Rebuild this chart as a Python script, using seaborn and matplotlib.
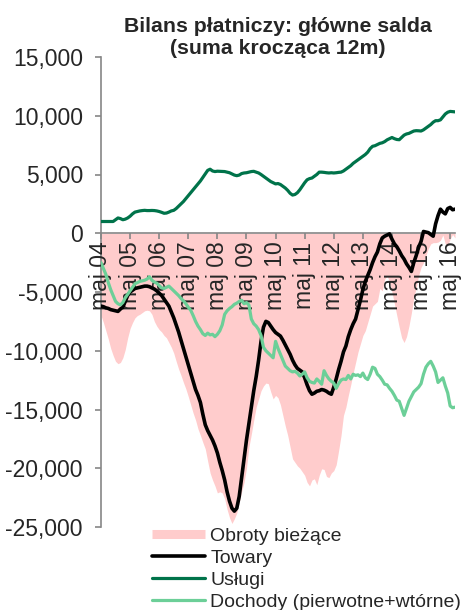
import numpy as np
import pandas as pd
import matplotlib
matplotlib.use("Agg")
import matplotlib.pyplot as plt
import seaborn as sns
from matplotlib.lines import Line2D
from matplotlib.ticker import FuncFormatter, FixedLocator

# ---------------- data (monthly 12m rolling sums, from May 2004) ----------------
title = "Bilans płatniczy: główne salda\n(suma krocząca 12m)"
tick_labels = ["maj 04", "maj 05", "maj 06", "maj 07", "maj 08", "maj 09", "maj 10",
               "maj 11", "maj 12", "maj 13", "maj 14", "maj 15", "maj 16"]
series_names = ["Obroty bieżące", "Towary", "Usługi", "Dochody (pierwotne+wtórne)"]

obroty = [
    -7000, -7600, -8300, -9000, -9800, -10400, -10900, -11100, -11000, -10600,
    -9900, -8900, -8100, -7600, -7200, -7000, -6900, -6750, -6600, -6550,
    -6600, -6900, -7500, -7900, -8200, -8400, -8700, -8900, -9300, -9700,
    -10200, -10900, -11550, -12100, -12700, -13250, -13900, -14600, -15300, -15900,
    -16650, -17200, -17800, -18350, -19400, -20400, -21000, -21500, -22100, -22000,
    -22100, -22600, -23500, -24200, -24700, -24300, -23800, -22900, -22000, -21200,
    -20000, -18200, -17100, -15900, -14800, -14100, -13400, -13000, -12750, -12800,
    -13500, -14100, -13800, -14000, -14600, -15500, -16400, -17200, -18200, -19200,
    -19500, -19800, -20000, -20300, -20600, -21200, -21500, -21000, -20900, -21400,
    -20600, -20050, -20100, -20700, -20800, -20400, -20200, -19700, -18500, -17200,
    -15500, -14800, -13800, -12900, -11900, -11000, -10100, -9400, -8700, -8300,
    -7600, -6900, -6200, -6000, -5800, -4700, -4900, -3900, -3650, -4100,
    -5000, -6000, -7000, -8000, -8900, -9300, -8800, -7900, -6800, -5500,
    -4600, -3600, -2900, -2500, -1900, -1300, -900, -800, -800, -750,
    -600, -150, -900, -1000, -500, -100, -400,
]

towary = [
    -6200, -6250, -6350, -6400, -6500, -6550, -6600, -6650, -6450, -6300,
    -5800, -5300, -5000, -4850, -4700, -4650, -4600, -4550, -4500, -4500,
    -4550, -4650, -4750, -4900, -5100, -5300, -5600, -5900, -6200, -6700,
    -7200, -7800, -8400, -9100, -9800, -10500, -11200, -11900, -12600, -13300,
    -13800, -14400, -15400, -16300, -16800, -17200, -17600, -18100, -18700, -19500,
    -20200, -21000, -22000, -22800, -23400, -23650, -23400, -22400, -20800, -19200,
    -17600, -16200, -14800, -13400, -12200, -10800, -9200, -8000, -7500, -7600,
    -7900, -8200, -8450, -8600, -8750, -9100, -9500, -9900, -10300, -10800,
    -11200, -11500, -11650, -11800, -12300, -12900, -13400, -13700, -13600, -13450,
    -13400, -13300, -13350, -13450, -13600, -13700, -13100, -12400, -11600, -10900,
    -10100, -9600, -8800, -8200, -7700, -7300, -6500, -5700, -4800, -4100,
    -3600, -3100, -2500, -2000, -1600, -900, -400, -250, -150, -50,
    -500, -900, -1150, -1500, -1900, -2200, -2600, -2900, -3250, -2500,
    -1900, -1200, -700, 150, 100, 50, -100, -250, 800, 1500,
    2050, 1800, 1650, 2100, 2200, 2000, 2050,
]

uslugi = [
    1000, 1000, 1000, 1000, 1000, 1000, 1150, 1300, 1250, 1150,
    1200, 1300, 1450, 1650, 1800, 1850, 1900, 1930, 1950, 1930,
    1930, 1940, 1930, 1900, 1850, 1780, 1700, 1720, 1800, 1900,
    1950, 2100, 2300, 2500, 2700, 2950, 3200, 3450, 3700, 3950,
    4200, 4450, 4750, 5050, 5350, 5450, 5300, 5250, 5280, 5270,
    5260, 5250, 5200, 5150, 5050, 4950, 4900, 4950, 5080, 5130,
    5150, 5200, 5250, 5270, 5200, 5130, 5000, 4850, 4700, 4550,
    4400, 4300, 4200, 4230, 4150, 4000, 3850, 3650, 3400, 3250,
    3300, 3450, 3700, 4000, 4300, 4550, 4650, 4700, 4850, 5000,
    5200, 5200, 5180, 5150, 5130, 5150, 5130, 5150, 5180, 5200,
    5300, 5450, 5600, 5750, 5950, 6100, 6250, 6400, 6550, 6700,
    6900, 7200, 7400, 7450, 7550, 7650, 7700, 7800, 7950, 8050,
    8150, 8050, 7980, 7960, 8150, 8350, 8450, 8500, 8600, 8700,
    8730, 8720, 8700, 8800, 8950, 9100, 9250, 9450, 9580, 9580,
    9650, 9900, 10150, 10300, 10370, 10350, 10330,
]

dochody = [
    -2500, -3000, -3500, -4200, -4800, -5300, -5800, -6000, -6100, -5900,
    -5500, -5200, -4900, -4600, -4300, -4200, -4100, -4050, -4000, -3900,
    -3700, -4000, -4150, -4250, -4450, -4650, -4700, -4600, -4500, -4700,
    -4900, -5100, -5300, -5550, -5750, -6000, -6300, -6550, -7000, -7500,
    -7900, -8200, -8550, -8700, -8500, -8650, -8600, -8800, -8600, -8300,
    -7800, -6900, -6600, -6400, -6250, -6050, -5950, -5800, -5700, -6000,
    -5900, -6100, -7300, -7700, -7900, -8200, -8700, -9700, -10000, -10200,
    -10400, -10600, -9200, -9800, -10300, -10800, -11300, -11500, -11700, -11800,
    -11750, -11900, -12150, -12000, -11800, -12300, -12600, -12700, -12750, -12400,
    -12600, -12850, -11700, -12100, -12400, -12600, -12750, -13200, -12800, -12500,
    -12400, -12450, -12100, -12400, -12000, -12100, -12050, -12200, -11900, -12300,
    -12450, -12000, -11400, -11500, -12000, -12200, -12500, -12850, -12900, -13200,
    -13450, -13800, -14200, -14300, -14900, -15500, -14900, -14300, -13900, -13500,
    -13300, -13100, -12800, -12000, -11400, -11100, -10900, -11300, -11800, -12700,
    -12500, -12300, -13000, -13600, -14700, -14850, -14800,
]

# ---------------- frame ----------------
month = np.arange(len(towary))
df = pd.DataFrame({
    "month": month,
    series_names[0]: obroty,
    series_names[1]: towary,
    series_names[2]: uslugi,
    series_names[3]: dochody,
})

sns.set_style("white")
plt.rcParams["font.family"] = ["Liberation Sans", "DejaVu Sans"]

GRAY = "#868686"
PINK = "#FFCCCC"
colors = {series_names[1]: "#000000", series_names[2]: "#00734A", series_names[3]: "#6CCF98"}
widths = {series_names[1]: 2.6, series_names[2]: 2.3, series_names[3]: 2.3}

fig = plt.figure(figsize=(4.62, 6.10), dpi=100)
L, R, T, B = 101, 455, 57, 527
ax = fig.add_axes([L / 462, 1 - B / 610, (R - L) / 462, (B - T) / 610])

ax.fill_between(df["month"], df[series_names[0]], 0, color=PINK, lw=0, zorder=1)
for name in series_names[1:]:
    sns.lineplot(data=df, x="month", y=name, ax=ax, color=colors[name],
                 linewidth=widths[name], zorder=3, legend=False)

ax.set_xlim(0, len(towary) - 1)
ax.set_ylim(-25000, 15000)
ax.set_xlabel("")
ax.set_ylabel("")
ax.set_axisbelow(False)

ax.yaxis.set_major_locator(FixedLocator(np.arange(-25000, 15001, 5000)))
ax.yaxis.set_major_formatter(FuncFormatter(lambda v, p: f"{v:,.0f}"))
ax.xaxis.set_major_locator(FixedLocator(np.arange(len(tick_labels)) * 12))
ax.set_xticklabels(tick_labels)

for s in ["top", "right"]:
    ax.spines[s].set_visible(False)
ax.spines["left"].set_color(GRAY)
ax.spines["left"].set_linewidth(1.2)
ax.spines["bottom"].set_position(("data", 0))
ax.spines["bottom"].set_color(GRAY)
ax.spines["bottom"].set_linewidth(1.2)
ax.spines["bottom"].set_zorder(2.5)

ax.tick_params(axis="y", direction="out", length=4, width=1.2, color=GRAY,
               labelsize=16.5, pad=9, left=True)
ax.tick_params(axis="x", direction="out", length=4, width=1.2, color=GRAY,
               labelsize=16.5, pad=2, labelrotation=90, bottom=True)
for lab in ax.get_xticklabels():
    lab.set_zorder(2.6)

fig.text(278 / 462, 1 - 54 / 610, title, ha="center", va="baseline",
         fontsize=15.3, fontweight="bold", multialignment="center", linespacing=1.22)

handles = [Line2D([], [], color=PINK, lw=6.5, solid_capstyle="butt")]
handles += [Line2D([], [], color=colors[n], lw=widths[n]) for n in series_names[1:]]
fig.legend(handles, series_names, loc="upper left",
           bbox_to_anchor=(152 / 462, 1 - 527 / 610), frameon=False,
           fontsize=14, borderpad=0, borderaxespad=0, labelspacing=0.23,
           handlelength=2.7, handletextpad=0.3)

fig.savefig("out.png", dpi=100)
